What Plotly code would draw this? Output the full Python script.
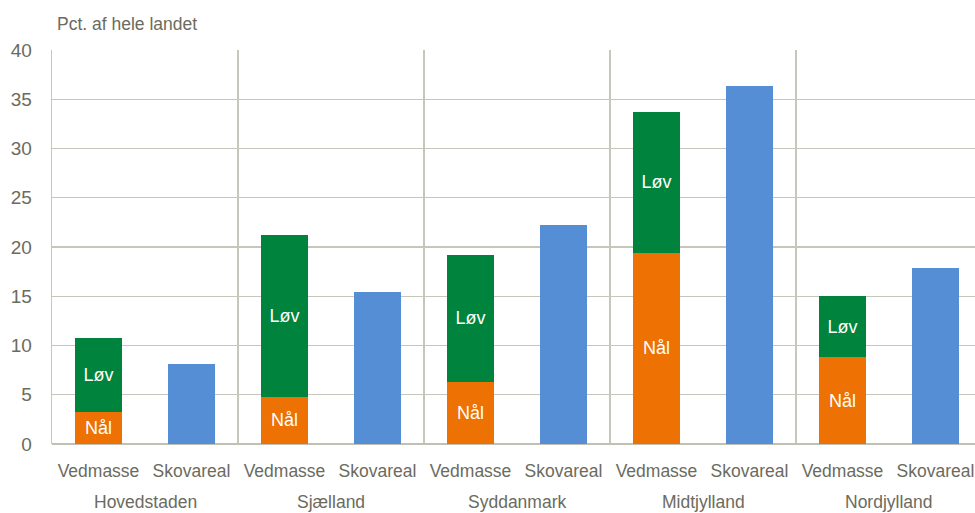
import plotly.graph_objects as go

regions = ["Hovedstaden", "Sjælland", "Syddanmark", "Midtjylland", "Nordjylland"]
bar_labels = ["Vedmasse", "Skovareal"]
naal = [3.3, 4.8, 6.3, 19.4, 8.8]
loev_total = [10.8, 21.2, 19.2, 33.7, 15.0]
loev = [round(t - n, 2) for t, n in zip(loev_total, naal)]
skovareal = [8.15, 15.45, 22.2, 36.35, 17.9]
y_ticks = [0, 5, 10, 15, 20, 25, 30, 35, 40]

FONT = "Liberation Sans, Arial, sans-serif"
TXT = "#6B6B5E"
GRID = "#C6C6BA"

n = len(regions)
x_ved = [i - 0.25 for i in range(n)]
x_skov = [i + 0.25 for i in range(n)]
bw = 0.258

W, H = 975, 513
plot_left, plot_top = 52, 50
plot_h = 394.5
plot_right = W
group_w = 186.0
x_max = -0.5 + (plot_right - plot_left) / group_w

fig = go.Figure()
fig.add_trace(go.Bar(x=x_ved, y=naal, width=bw, name="Nål", marker_color="#ED7103",
                     marker_line_width=0, text=["Nål"] * n, textposition="inside",
                     insidetextanchor="middle", textangle=0,
                     textfont=dict(color="white", size=18, family=FONT)))
fig.add_trace(go.Bar(x=x_ved, y=loev, width=bw, name="Løv", marker_color="#00843D",
                     marker_line_width=0, text=["Løv"] * n, textposition="inside",
                     insidetextanchor="middle", textangle=0,
                     textfont=dict(color="white", size=18, family=FONT)))
fig.add_trace(go.Bar(x=x_skov, y=skovareal, width=bw, name="Skovareal", marker_color="#558ED5",
                     marker_line_width=0))

for i, r in enumerate(regions):
    fig.add_annotation(x=i, y=-0.146, xref="x", yref="paper", text=r, showarrow=False,
                       yanchor="middle", font=dict(size=17.5, color=TXT, family=FONT))

fig.add_annotation(x=0, y=1.0, xref="paper", yref="paper", text="Pct. af hele landet",
                   showarrow=False, xanchor="left", yanchor="bottom", xshift=3, yshift=14,
                   font=dict(size=17.5, color=TXT, family=FONT))

fig.update_layout(
    width=W, height=H, barmode="stack", showlegend=False,
    margin=dict(l=plot_left, r=W - plot_right, t=plot_top, b=H - plot_top - plot_h),
    paper_bgcolor="white", plot_bgcolor="white",
    uniformtext=dict(minsize=14, mode="show"),
    xaxis=dict(range=[-0.5, x_max], tickmode="array",
               tickvals=x_ved + x_skov, ticktext=[bar_labels[0]] * n + [bar_labels[1]] * n,
               showgrid=False, zeroline=False, ticks="outside", ticklen=11,
               tickcolor="rgba(0,0,0,0)",
               tickfont=dict(size=17.5, color=TXT, family=FONT),
               minor=dict(tick0=0.5, dtick=1, showgrid=True, gridcolor=GRID, gridwidth=1.3, ticks=""),
               fixedrange=True),
    yaxis=dict(range=[0, 40], tickvals=y_ticks, showgrid=True, gridcolor=GRID, gridwidth=1.3,
               zeroline=True, zerolinecolor="#C0C0B4", zerolinewidth=2,
               showline=True, linecolor=GRID, linewidth=1.3,
               ticks="outside", ticklen=15, tickcolor="rgba(0,0,0,0)",
               tickfont=dict(size=19, color=TXT, family=FONT), fixedrange=True),
    bargap=0,
)

fig.write_html("out.html", config={"displayModeBar": False, "staticPlot": True},
               post_script="document.body.style.margin='0';document.body.style.overflow='hidden';")
